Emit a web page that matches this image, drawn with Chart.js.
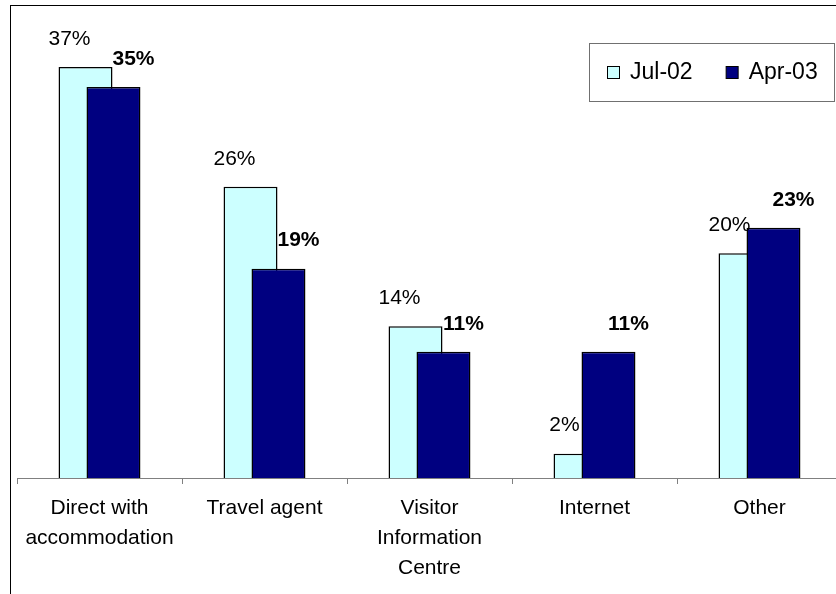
<!DOCTYPE html>
<html>
<head>
<meta charset="utf-8">
<script src="https://cdn.jsdelivr.net/npm/chart.js@4.4.0/dist/chart.umd.min.js"></script>
<style>
  html, body { margin: 0; padding: 0; background: #fff; overflow: hidden; }
  #wrap { position: relative; width: 836px; height: 594px; overflow: hidden; }
</style>
</head>
<body>
<!-- canvas is a little wider than the page: the plot area runs past the right edge -->
<div id="wrap"><canvas id="chart" width="842" height="594"></canvas></div>
<script>
// data (labels show the rounded value)
const categories = [["Direct with", "accommodation"], ["Travel agent"], ["Visitor", "Information", "Centre"], ["Internet"], ["Other"]];
const seriesNames = ["Jul-02", "Apr-03"];
const jul02 = [37.1, 26.3, 13.7, 2.2, 20.3];
const apr03 = [35.3, 18.9, 11.4, 11.4, 22.6];
const seriesColors = ["#CCFFFF", "#000080"];

const FONT = '"Liberation Sans", Arial, sans-serif';

// Excel-style overlapping bars: draw later series on top, plus value labels
const overlapBars = {
    id: 'overlapBars',
    beforeDatasetsDraw(chart) {
        const ctx = chart.ctx;
        const metas = chart.getSortedVisibleDatasetMetas();
        metas.forEach(meta => meta.controller.draw());

        metas.forEach((meta, di) => {
            const bold = di === 1;
            ctx.save();
            ctx.font = (bold ? 'bold ' : '') + '21px ' + FONT;
            ctx.fillStyle = '#000';
            ctx.textAlign = 'center';
            ctx.textBaseline = 'middle';
            meta.data.forEach((bar, i) => {
                const v = chart.data.datasets[meta.index].data[i];
                ctx.fillText(Math.round(v) + '%', bar.x + (bold ? 20 : -16), bar.y - 28);
            });
            ctx.restore();
        });
        return false;
    },
    afterDraw(chart) {
        const ctx = chart.ctx;
        ctx.save();

        // outer chart frame (cut off by the right and bottom edges)
        ctx.strokeStyle = '#000';
        ctx.lineWidth = 1;
        ctx.strokeRect(10.5, 5.5, 2000, 2000);

        // legend box
        ctx.fillStyle = '#fff';
        ctx.fillRect(589.5, 43.5, 245, 58);
        ctx.strokeStyle = '#707070';
        ctx.strokeRect(589.5, 43.5, 245, 58);

        ctx.font = '23px ' + FONT;
        ctx.textBaseline = 'alphabetic';
        let x = 607;
        chart.data.datasets.forEach(ds => {
            ctx.fillStyle = ds.backgroundColor;
            ctx.fillRect(x + 0.5, 66.5, 12, 12);
            ctx.strokeStyle = '#000';
            ctx.strokeRect(x + 0.5, 66.5, 12, 12);
            ctx.fillStyle = '#000';
            ctx.fillText(ds.label, x + 23, 79);
            x += 23 + ctx.measureText(ds.label).width + 33;
        });
        ctx.restore();
    }
};

const ctx = document.getElementById('chart').getContext('2d');
new Chart(ctx, {
    type: 'bar',
    data: {
        labels: categories,
        datasets: [
            {
                label: seriesNames[0],
                data: jul02,
                backgroundColor: seriesColors[0],
                borderColor: '#000',
                borderWidth: 1.5,
                categoryPercentage: 0.339,
                barPercentage: 1.93
            },
            {
                label: seriesNames[1],
                data: apr03,
                backgroundColor: seriesColors[1],
                borderColor: '#000',
                borderWidth: 1.5,
                categoryPercentage: 0.339,
                barPercentage: 1.93
            }
        ]
    },
    options: {
        responsive: false,
        animation: false,
        layout: { padding: { top: 35, left: 17, right: 0, bottom: 0 } },
        plugins: {
            legend: { display: false },
            tooltip: { enabled: false }
        },
        scales: {
            x: {
                grid: {
                    display: true,
                    drawOnChartArea: false,
                    drawTicks: true,
                    tickLength: 6,
                    color: '#808080',
                    offset: true
                },
                border: { color: '#808080' },
                ticks: {
                    color: '#000',
                    font: { family: FONT, size: 21, lineHeight: 1.43 },
                    padding: 9,
                    maxRotation: 0,
                    autoSkip: false
                },
                afterFit(scale) { scale.height = 116; }
            },
            y: { display: false, min: 0, max: 40 }
        }
    },
    plugins: [overlapBars]
});
</script>
</body>
</html>
